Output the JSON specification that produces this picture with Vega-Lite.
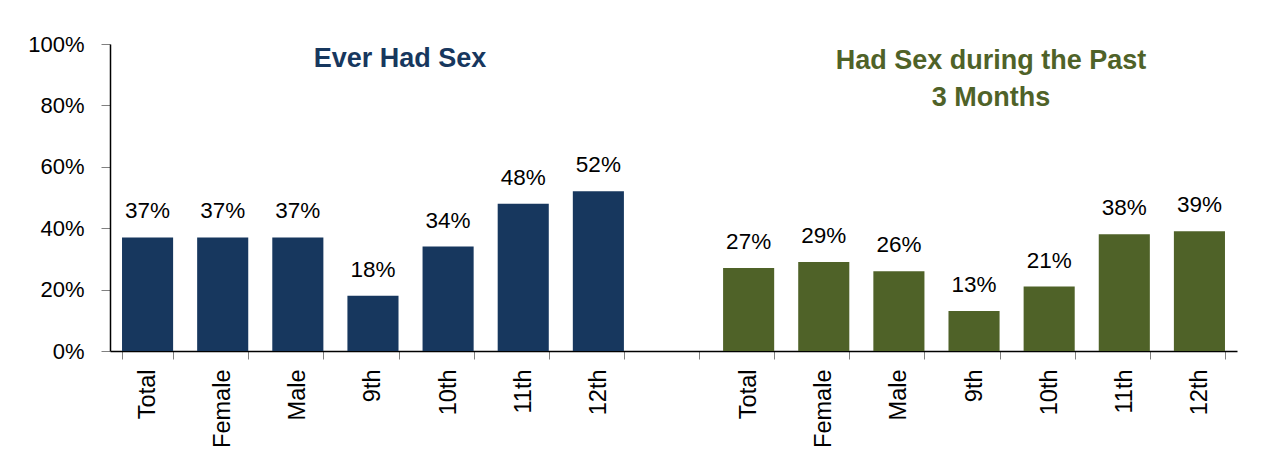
{
  "$schema": "https://vega.github.io/schema/vega-lite/v6.json",
  "width": 1127,
  "height": 307,
  "autosize": {"type": "none"},
  "padding": {"left": 110, "top": 44, "right": 47, "bottom": 108},
  "background": "white",
  "config": {"view": {"stroke": null}, "font": "Liberation Sans"},
  "datasets": {
    "bars": [
      {"key": "Ever|Total", "group": "Ever", "value": 0.37},
      {"key": "Ever|Female", "group": "Ever", "value": 0.37},
      {"key": "Ever|Male", "group": "Ever", "value": 0.37},
      {"key": "Ever|9th", "group": "Ever", "value": 0.18},
      {"key": "Ever|10th", "group": "Ever", "value": 0.34},
      {"key": "Ever|11th", "group": "Ever", "value": 0.48},
      {"key": "Ever|12th", "group": "Ever", "value": 0.52},
      {"key": "Past|Total", "group": "Past", "value": 0.27},
      {"key": "Past|Female", "group": "Past", "value": 0.29},
      {"key": "Past|Male", "group": "Past", "value": 0.26},
      {"key": "Past|9th", "group": "Past", "value": 0.13},
      {"key": "Past|10th", "group": "Past", "value": 0.21},
      {"key": "Past|11th", "group": "Past", "value": 0.38},
      {"key": "Past|12th", "group": "Past", "value": 0.39}
    ],
    "title1": [
      {"key": "Ever|9th", "group": "Ever", "value": 0.993, "label": "Ever Had Sex"}
    ],
    "title2": [
      {"key": "Past|9th", "group": "Past", "value": 0.987, "label": "Had Sex during the Past\n3 Months"}
    ]
  },
  "encoding": {
    "x": {
      "field": "key",
      "type": "nominal",
      "sort": null,
      "scale": {
        "domain": ["Ever|Total", "Ever|Female", "Ever|Male", "Ever|9th", "Ever|10th", "Ever|11th", "Ever|12th", "gap", "Past|Total", "Past|Female", "Past|Male", "Past|9th", "Past|10th", "Past|11th", "Past|12th"],
        "paddingInner": 0.32,
        "paddingOuter": 0.16
      },
      "axis": {
        "title": null,
        "labelExpr": "datum.value == 'gap' ? '' : split(datum.value, '|')[1]",
        "labelAngle": -90,
        "labelAlign": "right",
        "labelBaseline": "middle",
        "labelFontSize": 23.5,
        "labelColor": "black",
        "labelPadding": 10,
        "tickBand": "extent",
        "tickSize": 8,
        "tickColor": "#808080",
        "domainColor": "black",
        "domainWidth": 1.5
      }
    },
    "y": {
      "field": "value",
      "type": "quantitative",
      "scale": {"domain": [0, 1], "nice": false},
      "axis": {
        "title": null,
        "format": ".0%",
        "values": [0, 0.2, 0.4, 0.6, 0.8, 1],
        "grid": false,
        "labelFontSize": 22,
        "labelColor": "black",
        "labelPadding": 17,
        "tickSize": 9,
        "tickColor": "#808080",
        "domainColor": "black",
        "domainWidth": 1.5
      }
    },
    "color": {
      "field": "group",
      "type": "nominal",
      "scale": {"domain": ["Ever", "Past"], "range": ["#17375E", "#4F6228"]},
      "legend": null
    }
  },
  "layer": [
    {
      "data": {"name": "bars"},
      "mark": {"type": "bar"}
    },
    {
      "data": {"name": "bars"},
      "mark": {"type": "text", "baseline": "alphabetic", "dy": -19, "fontSize": 22.5, "color": "black"},
      "encoding": {
        "text": {"field": "value", "type": "quantitative", "format": ".0%"},
        "color": {"value": "black"}
      }
    },
    {
      "data": {"name": "title1"},
      "mark": {"type": "text", "baseline": "top", "fontSize": 27, "fontWeight": "bold", "dx": 27},
      "encoding": {
        "text": {"field": "label", "type": "nominal"}
      }
    },
    {
      "data": {"name": "title2"},
      "mark": {"type": "text", "baseline": "top", "fontSize": 27, "fontWeight": "bold", "lineBreak": "\n", "lineHeight": 37, "dx": 17},
      "encoding": {
        "text": {"field": "label", "type": "nominal"}
      }
    }
  ]
}
